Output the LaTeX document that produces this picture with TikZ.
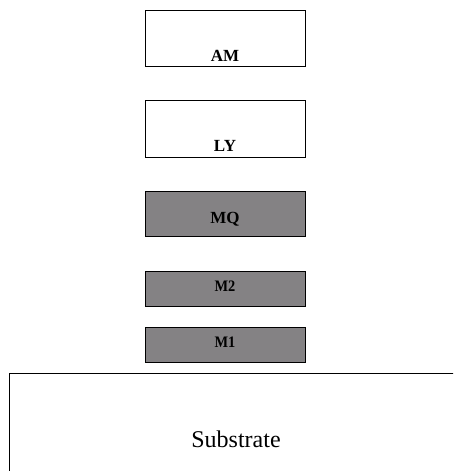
\documentclass[tikz,border=0pt]{standalone}
\usepackage{fontspec}
\setmainfont{Liberation Serif}
\definecolor{layergray}{RGB}{132,130,132}
\begin{document}
\begin{tikzpicture}[x=1pt,y=-1pt,
  layer/.style={draw=black,line width=1pt,inner sep=0pt,minimum width=160pt},
  filmlayer/.style={layer,fill=layergray},
  emptylayer/.style={layer,fill=white},
  tag/.style={anchor=base,inner sep=0pt,font=\fontsize{17}{17}\selectfont\bfseries},
  smalltag/.style={anchor=base,inner sep=0pt,font=\fontsize{16}{16}\selectfont\bfseries,xscale=0.9}]
  \useasboundingbox (0,0) rectangle (453,471);
  \clip (0,0) rectangle (453,471);
  \fill[white] (0,0) rectangle (453,471);
  % stacked layers
  \node[emptylayer,minimum height=56pt] (am) at (225,38) {};
  \node[emptylayer,minimum height=57pt] (ly) at (225,128.5) {};
  \node[filmlayer,minimum height=45pt] (mq) at (225,213.5) {};
  \node[filmlayer,minimum height=35pt] (m2) at (225,288.5) {};
  \node[filmlayer,minimum height=35pt] (m1) at (225,344.5) {};
  % substrate runs past the right and bottom edges
  \node[draw=black,line width=1pt,fill=white,inner sep=0pt,
        minimum width=460pt,minimum height=110pt,anchor=north west] (sub) at (9,373) {};
  % layer names
  \node[tag] (amt) at (225,61) {AM};
  \node[tag] (lyt) at (225,151) {LY};
  \node[tag,font=\fontsize{17}{17}\selectfont\mdseries] (mqt) at (225,223) {\textbf{MQ}};
  \node[smalltag] (m2t) at (225,291) {M2};
  \node[smalltag] (m1t) at (225,347) {M1};
  \node[anchor=base,inner sep=0pt,font=\fontsize{24}{24}\selectfont] (subt) at (236,447) {Substrate};
\end{tikzpicture}
\end{document}
